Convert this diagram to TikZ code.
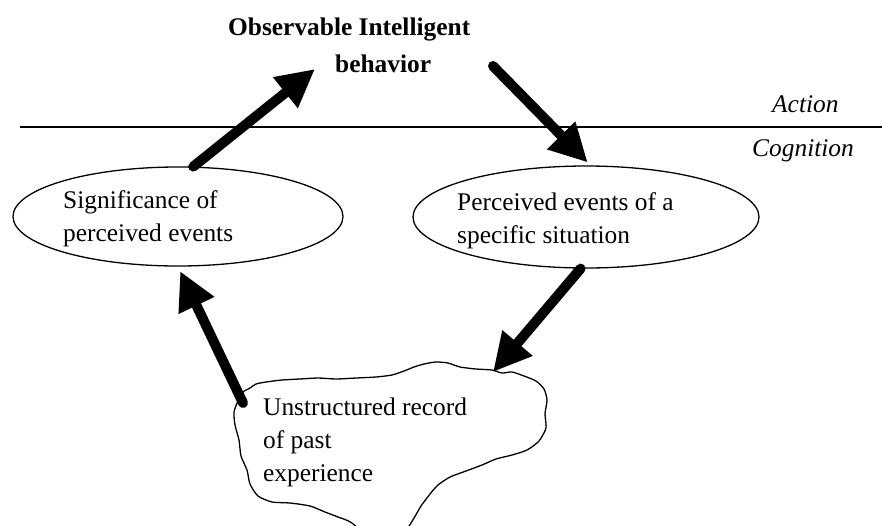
\documentclass[tikz,border=0pt]{standalone}
\usepackage{fontspec}
\setmainfont{Liberation Serif}
\usetikzlibrary{arrows.meta,shapes.geometric,calc}
\begin{document}
\begin{tikzpicture}[x=1pt,y=-1pt,
  txt/.style={inner sep=0pt, anchor=base west, font=\fontsize{25.4}{33.3}\selectfont},
  oval/.style={draw, line width=1.3pt, ellipse, inner sep=0pt},
  thinline/.style={line width=1.3pt},
  bigarrow/.style={line width=10pt, line cap=round, -{Triangle[length=38pt,width=37pt]}},
]
\useasboundingbox (0,0) rectangle (882,525);
\clip (0,0) rectangle (882,525);

% action / cognition divider
\coordinate (div-l) at (20,127);
\coordinate (div-r) at (882,127);
\draw[thinline] (div-l) -- (div-r);
\node[txt, font=\fontsize{25.4}{33.3}\selectfont\itshape] (action) at (772,112) {Action};
\node[txt, font=\fontsize{25.4}{33.3}\selectfont\itshape] (cognition) at (752,156) {Cognition};

% observable behaviour heading
\node[txt, font=\fontsize{25.4}{33.3}\selectfont\bfseries] (obs1) at (228,35) {Observable Intelligent};
\node[txt, font=\fontsize{25.4}{33.3}\selectfont\bfseries] (obs2) at (335,72) {behavior};
\coordinate (obs-in) at (315,69);
\coordinate (obs-out) at (493,66);

% the two ovals
\node[oval, minimum width=330pt, minimum height=99pt] (sig) at (178,216.5) {};
\node[txt] (sig-t) at (63,208) {\begin{tabular}[t]{@{}l@{}}Significance of\\perceived events\end{tabular}};

\node[oval, minimum width=346pt, minimum height=102pt] (perc) at (586,217) {};
\node[txt] (perc-t) at (457,210) {\begin{tabular}[t]{@{}l@{}}Perceived events of a\\specific situation\end{tabular}};

% irregular, hand-drawn outline of the memory record
\draw[thinline, line join=round] plot[smooth cycle, tension=0.4] coordinates {
  (238,401) (243,392) (250,388) (256,384) (266,382) (282,380) (300,379) (318,378)
  (336,379) (356,378) (376,377) (392,375) (404,371) (414,367) (424,364)
  (436,362) (448,363) (460,367) (476,369) (492,370) (502,373) (512,372) (524,376)
  (536,381) (544,389) (547,400) (545,414) (546,428) (539,441) (527,450)
  (512,455) (496,459) (482,465) (466,471) (450,477) (438,485) (430,494)
  (421,506) (414,518) (404,532) (378,545) (352,523) (338,517) (325,512)
  (310,506) (290,503) (272,502) (258,496) (250,484) (247,470) (241,456)
  (239,440) (235,425) (234,412)};
\node[txt] (rec) at (263,415) {\begin{tabular}[t]{@{}l@{}}Unstructured record\\of past\\experience\end{tabular}};
\coordinate (rec-in) at (493,372);
\coordinate (rec-out) at (243,403);

% cycle of arrows
\draw[bigarrow] (sig.73) -- (obs-in);
\draw[bigarrow, shorten >=4pt] (obs-out) -- (perc.85);
\draw[bigarrow] (perc.-96) -- (rec-in);
\draw[bigarrow, shorten >=5pt] (rec-out) -- (sig.south);
\end{tikzpicture}
\end{document}
